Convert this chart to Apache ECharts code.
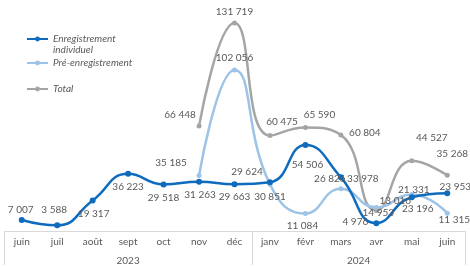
<!DOCTYPE html>
<html>
<head>
<meta charset="utf-8">
<script src="https://cdn.jsdelivr.net/npm/echarts@6/dist/echarts.min.js"></script>
<style>
  html, body { margin: 0; padding: 0; background: #fff; }
  #chart { width: 470px; height: 266px; }
</style>
</head>
<body>
<div id="chart"></div>
<script>
// months, two years
const months = ['juin', 'juil', 'août', 'sept', 'oct', 'nov', 'déc', 'janv', 'févr', 'mars', 'avr', 'mai', 'juin'];
const years = ['2023', '2024'];

const individuel = [7007, 3588, 19317, 36223, 29518, 31263, 29663, 30851, 54506, 33978, 4976, 21331, 23953];
const preEnreg = [null, null, null, null, null, 35185, 102056, 29624, 11084, 26826, 14953, 23196, 11315];
const total = [null, null, null, null, null, 66448, 131719, 60475, 65590, 60804, 13016, 44527, 35268];

// label offsets (px from the point)
const indivOff = [[-1, -10], [-3, -16], [1, 13], [0, 13], [0, 13], [1, 13], [0, 13], [0, 14], [2, 20], [22, 1], [-21, -1], [2, -8], [8, -6]];
const preOff = [null, null, null, null, null, [-28, -13], [0, -12], [-23, -12], [-3, 12], [-11, -10], [2, 5], [6, 14], [7, 7]];
const totalOff = [null, null, null, null, null, [-19, -11], [0, -11], [12, -14], [14, -13], [24, -2], [19, -10], [20, -23], [5, -22]];

const fmt = v => String(v).replace(/\B(?=(\d{3})+(?!\d))/g, ' ');
const font = 'Lato, "Open Sans", sans-serif';

function points(vals, offs) {
  return vals.map((v, i) => v == null ? '-' : { value: v, label: { offset: offs[i] } });
}

function makeSeries(name, vals, offs, color, size) {
  return {
    name: name,
    type: 'line',
    smooth: 0.5,
    data: points(vals, offs),
    symbol: 'circle',
    symbolSize: size,
    lineStyle: { width: 2.5, color: color },
    itemStyle: { color: color },
    label: {
      show: true,
      position: 'inside',
      color: '#595959',
      fontSize: 10,
      fontFamily: font,
      textBorderWidth: 0,
      textBorderColor: 'transparent',
      formatter: p => fmt(p.value)
    },
    emphasis: { disabled: true }
  };
}

const legendBase = {
  orient: 'vertical',
  left: 26,
  padding: 0,
  itemWidth: 21,
  itemHeight: 6,
  selectedMode: false,
  textStyle: { color: '#595959', fontSize: 10, fontStyle: 'italic', fontFamily: font, lineHeight: 11 }
};

const chart = echarts.init(document.getElementById('chart'));
chart.setOption({
  animation: false,
  backgroundColor: '#fff',
  legend: [
    // empty first line keeps the icon level with "Enregistrement"
    Object.assign({}, legendBase, {
      top: 22.5,
      data: ['Enregistrement individuel'],
      formatter: () => '\nEnregistrement\nindividuel'
    }),
    Object.assign({}, legendBase, { top: 57.5, data: ['Pré-enregistrement'] }),
    Object.assign({}, legendBase, { top: 83.5, data: ['Total'] })
  ],
  grid: { left: 4, right: 5, top: 10, bottom: 34 },
  xAxis: [
    {
      type: 'category',
      data: months,
      boundaryGap: true,
      axisLine: { lineStyle: { color: '#d9d9d9', width: 1 } },
      axisTick: {
        show: true,
        length: 34,
        interval: i => i === 0 || i === 7,
        lineStyle: { color: '#d9d9d9', width: 1 }
      },
      axisLabel: { interval: 0, color: '#595959', fontSize: 10, fontFamily: font, margin: 6 },
      splitLine: { show: false }
    },
    {
      type: 'value',
      position: 'bottom',
      offset: 19,
      min: 0,
      max: 13,
      interval: 0.5,
      axisLine: { show: false },
      axisTick: { show: false },
      splitLine: { show: false },
      axisLabel: {
        color: '#595959', fontSize: 10, fontFamily: font, margin: 6,
        formatter: v => v === 3.5 ? years[0] : (v === 10 ? years[1] : '')
      }
    }
  ],
  yAxis: { type: 'value', min: 0, max: 140000, show: false, splitLine: { show: false } },
  series: [
    makeSeries('Total', total, totalOff, '#a5a5a5', 5),
    makeSeries('Pré-enregistrement', preEnreg, preOff, '#9dc3e6', 5),
    makeSeries('Enregistrement individuel', individuel, indivOff, '#0f6cbd', 6)
  ]
});
</script>
</body>
</html>
